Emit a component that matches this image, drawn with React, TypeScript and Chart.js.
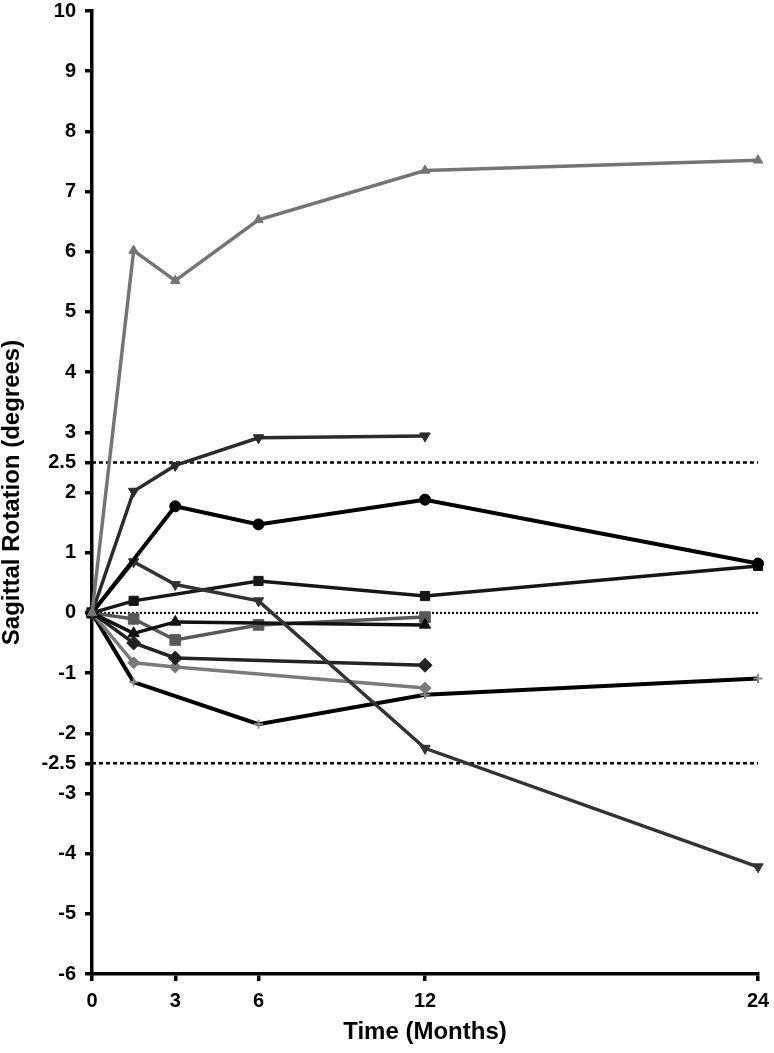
import React, { useEffect, useRef } from "react";
import { Chart, registerables } from "chart.js";

Chart.register(...registerables);

// Axis ticks
const xTickValues = [0, 3, 6, 12, 24];
const yTickValues = [10, 9, 8, 7, 6, 5, 4, 3, 2.5, 2, 1, 0, -1, -2, -2.5, -3, -4, -5, -6];

// Series (months / sagittal rotation in degrees)
const s1Months = [0, 1.5, 3, 6, 12, 24];
const s1Values = [0, 6.02, 5.52, 6.53, 7.35, 7.52];

const s2Months = [0, 1.5, 3, 6, 12];
const s2Values = [0, 2.02, 2.45, 2.91, 2.94];

const s3Months = [0, 3, 6, 12, 24];
const s3Values = [0, 1.77, 1.47, 1.88, 0.82];

const s4Months = [0, 1.5, 3, 6, 12, 24];
const s4Values = [0, 0.85, 0.47, 0.2, -2.25, -4.22];

const s5Months = [0, 1.5, 6, 12, 24];
const s5Values = [0, 0.2, 0.53, 0.28, 0.78];

const s6Months = [0, 1.5, 3, 12];
const s6Values = [0, -0.34, -0.15, -0.2];

const s7Months = [0, 1.5, 3, 6, 12];
const s7Values = [0, -0.1, -0.45, -0.2, -0.07];

const s8Months = [0, 1.5, 3, 12];
const s8Values = [0, -0.5, -0.75, -0.87];

const s9Months = [0, 1.5, 3, 12];
const s9Values = [0, -0.83, -0.9, -1.25];

const s10Months = [0, 1.5, 6, 12, 24];
const s10Values = [0, -1.15, -1.85, -1.36, -1.09];

// Reference lines
const refMonths = [0, 24];
const upperLimit = [2.5, 2.5];
const lowerLimit = [-2.5, -2.5];
const zeroLine = [0, 0];

const pts = (xs: number[], ys: number[]) => xs.map((x, i) => ({ x, y: ys[i] }));

const FONT = "'Liberation Sans', Arial, Helvetica, sans-serif";

function series(
  xs: number[],
  ys: number[],
  color: string,
  style: string,
  radius: number,
  opts: any = {}
) {
  return {
    data: pts(xs, ys),
    borderColor: color,
    backgroundColor: color,
    borderWidth: 3.5,
    pointStyle: style,
    pointRadius: radius,
    pointBackgroundColor: color,
    pointBorderColor: color,
    pointBorderWidth: 1,
    tension: 0,
    clip: false,
    ...opts,
  };
}

export default function App() {
  const ref = useRef<HTMLCanvasElement>(null);

  useEffect(() => {
    if (!ref.current) return;
    const chart = new Chart(ref.current, {
      type: "line",
      data: {
        datasets: [
          series(s1Months, s1Values, "#747474", "triangle", 5.5),
          series(s2Months, s2Values, "#2b2b2b", "triangle", 6, { pointRotation: 180 }),
          series(s3Months, s3Values, "#000000", "circle", 5.5, { borderWidth: 4 }),
          series(s4Months, s4Values, "#333333", "triangle", 6, { pointRotation: 180 }),
          series(s5Months, s5Values, "#161616", "rect", 6.5),
          series(s6Months, s6Values, "#111111", "triangle", 6.5),
          series(s7Months, s7Values, "#585858", "rect", 7.5),
          series(s8Months, s8Values, "#222222", "rectRot", 7),
          series(s9Months, s9Values, "#7a7a7a", "rectRot", 6),
          series(s10Months, s10Values, "#000000", "cross", 4.5, {
            borderWidth: 4,
            pointBorderColor: "#8a8a8a",
            pointBorderWidth: 2,
          }),
          {
            data: pts(refMonths, upperLimit),
            borderColor: "#000",
            borderWidth: 2.5,
            borderDash: [4, 3],
            pointRadius: 0,
            clip: false,
          },
          {
            data: pts(refMonths, lowerLimit),
            borderColor: "#000",
            borderWidth: 2.5,
            borderDash: [4, 3],
            pointRadius: 0,
            clip: false,
          },
          {
            data: pts(refMonths, zeroLine),
            borderColor: "#000",
            borderWidth: 2,
            borderDash: [2, 2],
            pointRadius: 0,
            clip: false,
          },
        ] as any,
      },
      options: {
        animation: false,
        responsive: false,
        maintainAspectRatio: false,
        layout: { padding: { top: 11, right: 16, left: 0, bottom: 0 } },
        plugins: { legend: { display: false }, tooltip: { enabled: false } },
        scales: {
          x: {
            type: "linear",
            min: 0,
            max: 24,
            afterBuildTicks: (scale: any) => {
              scale.ticks = xTickValues.map((v) => ({ value: v }));
            },
            afterFit: (scale: any) => {
              scale.height = 79;
              scale.paddingLeft = 0;
              scale.paddingRight = 0;
              scale.paddingTop = 0;
              scale.paddingBottom = 0;
            },
            grid: {
              drawOnChartArea: false,
              drawTicks: true,
              tickLength: 7,
              color: "#000",
              lineWidth: 3.5,
            },
            border: { display: true, color: "#000", width: 3.5 },
            ticks: {
              color: "#000",
              padding: 10,
              autoSkip: false,
              maxRotation: 0,
              font: { family: FONT, size: 20, weight: "bold", lineHeight: 1 },
            },
            title: {
              display: true,
              text: "Time (Months)",
              color: "#000",
              padding: { top: 0, bottom: 9 },
              font: { family: FONT, size: 24, weight: "bold", lineHeight: 1 },
            },
          },
          y: {
            type: "linear",
            min: -6,
            max: 10,
            afterBuildTicks: (scale: any) => {
              scale.ticks = yTickValues.map((v) => ({ value: v }));
            },
            afterFit: (scale: any) => {
              scale.width = 92;
              scale.paddingLeft = 0;
              scale.paddingRight = 0;
              scale.paddingTop = 0;
              scale.paddingBottom = 0;
            },
            grid: {
              drawOnChartArea: false,
              drawTicks: true,
              tickLength: 7,
              color: "#000",
              lineWidth: 3.5,
            },
            border: { display: true, color: "#000", width: 3.5 },
            ticks: {
              color: "#000",
              padding: 9,
              autoSkip: false,
              callback: (v: any) => String(v),
              font: { family: FONT, size: 20, weight: "bold", lineHeight: 1 },
            },
            title: {
              display: true,
              text: "Sagittal Rotation (degrees)",
              color: "#000",
              padding: { top: 0, bottom: 0 },
              font: { family: FONT, size: 24, weight: "bold", lineHeight: 1 },
            },
          },
        },
      } as any,
    });
    return () => chart.destroy();
  }, []);

  return (
    <div style={{ position: "absolute", left: 0, top: 0, width: 774, height: 1053, background: "#fff" }}>
      <canvas ref={ref} width={774} height={1053} style={{ display: "block" }} />
    </div>
  );
}
